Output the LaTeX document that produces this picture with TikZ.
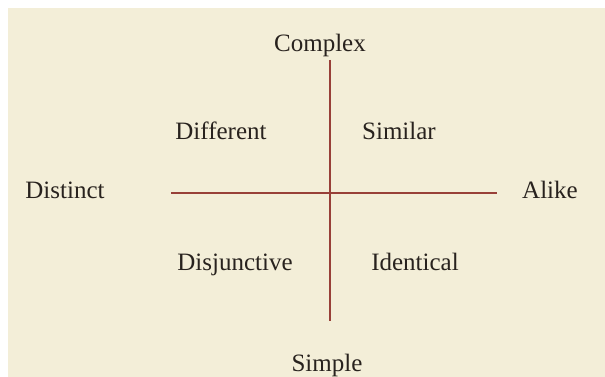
\documentclass[tikz,border=0pt]{standalone}
\usepackage{fontspec}
\setmainfont{Liberation Serif}
\definecolor{paper}{RGB}{243,238,216}
\definecolor{axis}{RGB}{152,64,56}
\definecolor{ink}{RGB}{40,34,30}
\begin{document}
\begin{tikzpicture}[x=1pt,y=-1pt,
  lbl/.style={anchor=base,inner sep=0pt,text=ink,font=\fontsize{25}{30}\selectfont},
  axisline/.style={draw=axis,line width=2.6pt}]
\useasboundingbox (0,0) rectangle (605,377);
\fill[white] (0,0) rectangle (605,377);
\fill[paper] (8,8) rectangle (605,377);
\coordinate (top) at (330,60);
\coordinate (bot) at (330,321);
\coordinate (left) at (171,193);
\coordinate (right) at (497,193);
\draw[axisline] (top) -- (bot);
\draw[axisline] (left) -- (right);
\node[lbl] (complex) at (320,52) {Complex};
\node[lbl] (simple) at (327,371) {Simple};
\node[lbl] (distinct) at (65,198) {Distinct};
\node[lbl] (alike) at (550,198) {Alike};
\node[lbl] (different) at (221,140) {Different};
\node[lbl] (similar) at (399,140) {Similar};
\node[lbl] (disjunctive) at (235,270) {Disjunctive};
\node[lbl] (identical) at (415,270) {Identical};
\end{tikzpicture}
\end{document}
